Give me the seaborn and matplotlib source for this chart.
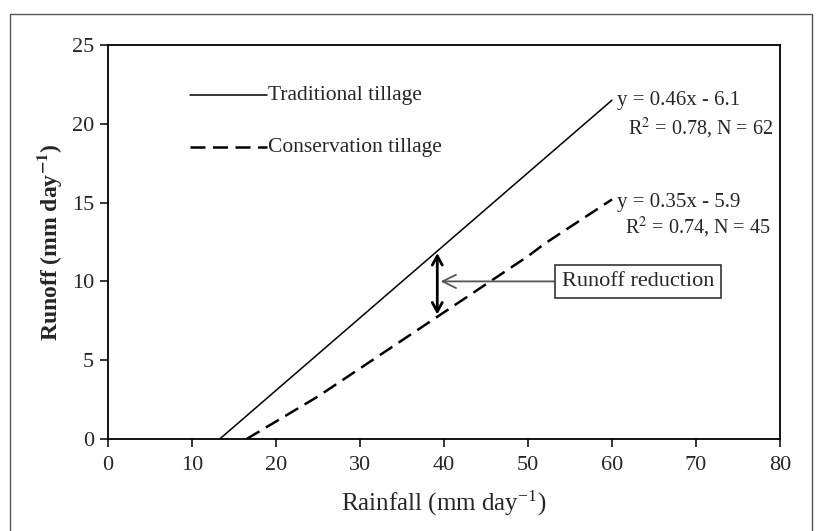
import matplotlib
matplotlib.use("Agg")
import matplotlib.pyplot as plt
import seaborn as sns
import pandas as pd
from matplotlib.patches import Rectangle

sns.set_theme(style="ticks")
plt.rcParams['font.family'] = ['Liberation Serif', 'DejaVu Serif']
plt.rcParams['mathtext.fontset'] = 'stix'

# Data
trad_x = [13.3, 60.0]
trad_y = [0.0, 21.5]
cons_x = [16.5, 25.0, 50.0, 52.0, 60.0]
cons_y = [0.0, 2.7, 11.6, 12.4, 15.2]
series_names = ["Traditional tillage", "Conservation tillage"]
eq_texts = ["y = 0.46x - 6.1", "y = 0.35x - 5.9"]
stat_texts = [r"R$^{2}$ = 0.78, N = 62", r"R$^{2}$ = 0.74, N = 45"]
x_ticks = [0, 10, 20, 30, 40, 50, 60, 70, 80]
y_ticks = [0, 5, 10, 15, 20, 25]
reduction_x = 39.2
reduction_top = 11.8
reduction_bottom = 7.9

df = pd.DataFrame({
    "x": trad_x + cons_x,
    "y": trad_y + cons_y,
    "s": [series_names[0]] * len(trad_x) + [series_names[1]] * len(cons_x),
})

DASH = (0, (6, 3))

fig = plt.figure(figsize=(8.19, 5.31), dpi=100)
fig.patch.set_facecolor("white")
fig.patches.append(Rectangle((10/819, -0.02), (812-10)/819, (531-14)/531 + 0.02,
                             transform=fig.transFigure, fill=False,
                             edgecolor="#555555", linewidth=1.0))
ax = fig.add_axes([108/819, (531-439)/531, (780-108)/819, (439-45)/531])

sns.lineplot(data=df[df.s == series_names[0]], x="x", y="y", ax=ax,
             color="black", linewidth=1.1, legend=False)
sns.lineplot(data=df[df.s == series_names[1]], x="x", y="y", ax=ax,
             color="black", linewidth=1.8, linestyle=DASH, legend=False)

ax.set_xlim(0, 80)
ax.set_ylim(0, 25)
ax.set_xticks(x_ticks)
ax.set_yticks(y_ticks)
for s in ax.spines.values():
    s.set_linewidth(1.3)
    s.set_color("black")
ax.tick_params(direction="out", length=6, width=1.1, labelsize=16, color="black", pad=4)
ax.tick_params(axis="x", pad=6)
ax.set_xlabel(r"Rainfall (mm day$^{\mathregular{-1}}$)", fontsize=18, labelpad=10)
ax.set_ylabel(r"Runoff (mm day$^{\mathbf{-1}}$)", fontsize=17, fontweight="bold", labelpad=6)

# Manual legend
ax.plot([9.8, 18.9], [21.8, 21.8], color="black", linewidth=1.1)
ax.text(19.0, 21.8, series_names[0], fontsize=15.5, va="center", ha="left")
ax.plot([9.8, 18.9], [18.5, 18.5], color="black", linewidth=1.8, linestyle=DASH)
ax.text(19.0, 18.5, series_names[1], fontsize=15.5, va="center", ha="left")

# Equations
ax.text(60.6, 21.5, eq_texts[0], fontsize=15, va="center", ha="left")
ax.text(61.9, 19.7, stat_texts[0], fontsize=14.5, va="center", ha="left")
ax.text(60.6, 15.0, eq_texts[1], fontsize=15, va="center", ha="left")
ax.text(61.6, 13.4, stat_texts[1], fontsize=14.5, va="center", ha="left")

# Runoff reduction arrow
ax.annotate("", xy=(reduction_x, reduction_top), xytext=(reduction_x, reduction_bottom),
            arrowprops=dict(arrowstyle="<->,head_length=0.55,head_width=0.3",
                            color="black", linewidth=2.0, shrinkA=0, shrinkB=0))
ax.annotate("Runoff reduction", xy=(39.6, 10.0), xytext=(54.0, 10.0),
            fontsize=16, va="center", ha="left",
            bbox=dict(boxstyle="square,pad=0.3", fc="white", ec="#333333", lw=1.2),
            arrowprops=dict(arrowstyle="->,head_length=0.6,head_width=0.3",
                            color="#555555", linewidth=1.3, shrinkA=0, shrinkB=0))

fig.savefig("out.png", dpi=100)
